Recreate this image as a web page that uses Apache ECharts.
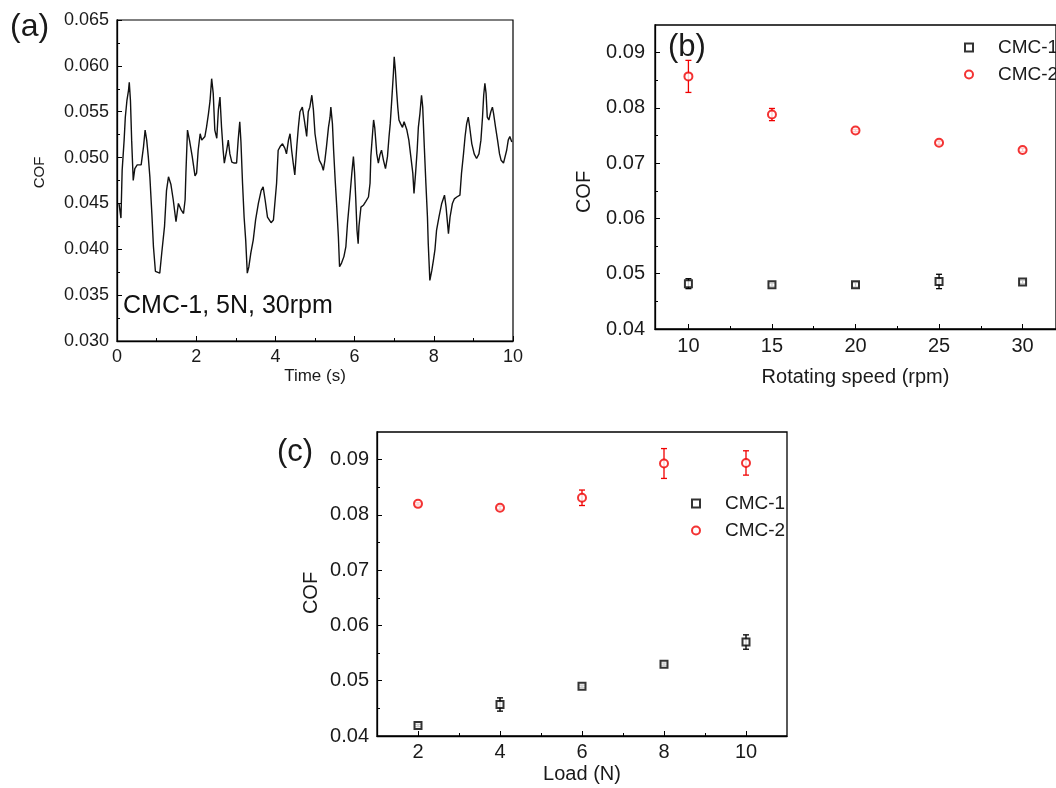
<!DOCTYPE html>
<html>
<head>
<meta charset="utf-8">
<script src="https://cdn.jsdelivr.net/npm/echarts@6/dist/echarts.min.js"></script>
<style>
html,body{margin:0;padding:0;background:#fff;}
#chart{width:1056px;height:788px;}
</style>
</head>
<body>
<div id="chart"></div>
<script>
// ---------- Panel (a): COF vs time ----------
const timeA = [0.05,0.10,0.13,0.18,0.21,0.25,0.29,0.31,0.34,0.37,0.41,0.45,0.51,0.61,0.67,0.71,0.75,0.79,0.83,0.88,0.92,0.97,1.08,1.13,1.20,1.25,1.30,1.36,1.42,1.49,1.55,1.62,1.68,1.72,1.74,1.78,1.83,1.90,1.97,
2.01,2.05,2.10,2.14,2.18,2.22,2.26,2.31,2.35,2.39,2.43,2.47,2.52,2.56,2.60,2.64,2.68,2.71,2.77,2.81,2.85,2.90,2.96,3.02,3.06,3.10,3.13,3.17,3.21,3.25,3.29,3.33,3.38,3.44,3.50,3.57,3.64,3.69,3.74,3.80,3.89,3.95,
4.03,4.07,4.12,4.18,4.24,4.28,4.33,4.37,4.41,4.45,4.49,4.54,4.58,4.62,4.68,4.73,4.79,4.83,4.87,4.92,4.96,5.00,5.06,5.11,5.17,5.21,5.25,5.29,5.34,5.38,5.40,5.44,5.47,5.51,5.55,5.59,5.62,5.67,5.73,5.78,5.82,5.88,5.93,5.97,6.00,6.03,
6.06,6.09,6.11,6.16,6.22,6.28,6.35,6.39,6.41,6.46,6.48,6.51,6.56,6.60,6.64,6.68,6.73,6.78,6.83,6.87,6.90,6.94,6.98,7.00,7.03,7.06,7.09,7.12,7.16,7.21,7.25,7.29,7.32,7.37,7.42,7.47,7.50,7.54,7.58,7.61,7.65,7.69,7.72,7.76,7.80,7.84,7.86,7.90,7.95,7.99,8.03,
8.07,8.13,8.20,8.27,8.31,8.37,8.41,8.47,8.52,8.58,8.66,8.70,8.75,8.79,8.83,8.87,8.91,8.96,9.02,9.08,9.14,9.19,9.23,9.26,9.29,9.32,9.35,9.39,9.44,9.48,9.51,9.56,9.61,9.66,9.70,9.76,9.80,9.84,9.88,9.92,9.97];
const cofA = [0.0450,0.0434,0.0486,0.0519,0.0544,0.0562,0.0573,0.0582,0.0562,0.0519,0.0475,0.0488,0.0492,0.0492,0.0512,0.0530,0.0519,0.0501,0.0479,0.0439,0.0403,0.0376,0.0374,0.0396,0.0425,0.0464,0.0479,0.0471,0.0454,0.0430,0.0450,0.0443,0.0439,0.0454,0.0483,0.0530,0.0519,0.0501,0.0480,
0.0483,0.0508,0.0526,0.0519,0.0517,0.0523,0.0533,0.0548,0.0562,0.0586,0.0570,0.0530,0.0521,0.0552,0.0566,0.0533,0.0508,0.0494,0.0508,0.0519,0.0504,0.0495,0.0494,0.0494,0.0519,0.0539,0.0517,0.0472,0.0435,0.0410,0.0374,0.0381,0.0396,0.0410,0.0432,0.0450,0.0464,0.0468,0.0454,0.0435,0.0429,0.0432,
0.0472,0.0508,0.0512,0.0515,0.0510,0.0504,0.0519,0.0526,0.0508,0.0494,0.0481,0.0512,0.0533,0.0550,0.0555,0.0541,0.0523,0.0550,0.0555,0.0568,0.0552,0.0526,0.0508,0.0497,0.0492,0.0486,0.0497,0.0512,0.0533,0.0544,0.0555,0.0537,0.0508,0.0475,0.0446,0.0414,0.0381,0.0385,0.0392,0.0403,0.0428,0.0457,0.0483,0.0501,0.0483,0.0454,
0.0421,0.0406,0.0425,0.0446,0.0448,0.0452,0.0457,0.0472,0.0501,0.0530,0.0541,0.0532,0.0504,0.0494,0.0503,0.0508,0.0497,0.0488,0.0501,0.0523,0.0537,0.0564,0.0592,0.0610,0.0595,0.0573,0.0555,0.0541,0.0537,0.0533,0.0539,0.0541,0.0530,0.0519,0.0501,0.0483,0.0461,0.0483,0.0508,0.0533,0.0548,0.0568,0.0555,0.0512,0.0472,0.0435,0.0406,0.0366,0.0377,0.0388,0.0400,
0.0421,0.0435,0.0450,0.0459,0.0446,0.0417,0.0435,0.0450,0.0455,0.0457,0.0459,0.0483,0.0504,0.0523,0.0537,0.0544,0.0532,0.0515,0.0504,0.0499,0.0504,0.0519,0.0544,0.0568,0.0581,0.0570,0.0544,0.0541,0.0550,0.0555,0.0548,0.0533,0.0519,0.0504,0.0497,0.0494,0.0492,0.0508,0.0519,0.0523,0.0517];

// ---------- Panel (b): COF vs rotating speed ----------
const speedRpm = [10, 15, 20, 25, 30];
const cmc1Speed = [0.0482, 0.0480, 0.0480, 0.0486, 0.0485];
const cmc1SpeedErr = [0.0009, 0.0003, 0.0004, 0.0013, 0.0003];
const cmc2Speed = [0.0857, 0.0788, 0.0759, 0.0737, 0.0724];
const cmc2SpeedErr = [0.0029, 0.0011, 0.0002, 0.0003, 0.0003];
const speedTicks = [10, 15, 20, 25, 30];
const speedMinorTicks = [12.5, 17.5, 22.5, 27.5];

// ---------- Panel (c): COF vs load ----------
const loadN = [2, 4, 6, 8, 10];
const cmc1Load = [0.0419, 0.0457, 0.0490, 0.0530, 0.0570];
const cmc1LoadErr = [0.0002, 0.0012, 0.0002, 0.0002, 0.0013];
const cmc2Load = [0.0820, 0.0813, 0.0831, 0.0893, 0.0894];
const cmc2LoadErr = [0.0002, 0.0003, 0.0014, 0.0027, 0.0022];
const loadTicks = [2, 4, 6, 8, 10];
const loadMinorTicks = [3, 5, 7, 9];

const cofTicks = [0.04, 0.05, 0.06, 0.07, 0.08, 0.09];
const cofMinorTicks = [0.045, 0.055, 0.065, 0.075, 0.085];

const FONT = "'Liberation Sans', Arial, sans-serif";
const TXT = '#1a1a1a';
const RED = '#f00000';

function pairs(xs, ys) { return xs.map((x, i) => [x, ys[i]]); }
function errData(xs, ys, es) { return xs.map((x, i) => [x, ys[i] - es[i], ys[i] + es[i]]); }
function errRender(color) {
  return function (params, api) {
    const x = api.value(0), lo = api.value(1), hi = api.value(2);
    const p1 = api.coord([x, lo]), p2 = api.coord([x, hi]);
    const w = 3;
    const st = { stroke: color, lineWidth: 1.3 };
    return { type: 'group', children: [
      { type: 'line', shape: { x1: p1[0], y1: p1[1], x2: p2[0], y2: p2[1] }, style: st },
      { type: 'line', shape: { x1: p1[0] - w, y1: p1[1], x2: p1[0] + w, y2: p1[1] }, style: st },
      { type: 'line', shape: { x1: p2[0] - w, y1: p2[1], x2: p2[0] + w, y2: p2[1] }, style: st }
    ]};
  };
}

const axisLineStyle = { lineStyle: { color: '#000', width: 1.3 } };

const chart = echarts.init(document.getElementById('chart'), null, { renderer: 'canvas' });
const option = {
  animation: false,
  backgroundColor: '#fff',
  textStyle: { fontFamily: FONT },
  grid: [
    { left: 117, top: 20, width: 396, height: 321, show: true, borderColor: '#000', borderWidth: 1.2, backgroundColor: 'transparent' },
    { left: 655, top: 25, width: 409, height: 304, show: true, borderColor: '#000', borderWidth: 1.3, backgroundColor: 'transparent' },
    { left: 377, top: 432, width: 410, height: 304, show: true, borderColor: '#000', borderWidth: 1.3, backgroundColor: 'transparent' }
  ],
  xAxis: [
    { gridIndex: 0, type: 'value', position: 'bottom', min: 0, max: 10, interval: 2,
      name: 'Time (s)', nameLocation: 'middle', nameGap: 27,
      nameTextStyle: { fontSize: 17, color: TXT, fontFamily: FONT },
      axisLine: axisLineStyle,
      axisTick: { inside: true, length: 5, lineStyle: { color: '#000' } },
      minorTick: { show: true, splitNumber: 2, length: 3, lineStyle: { color: '#000' } },
      axisLabel: { fontSize: 18, color: TXT, margin: 7, fontFamily: FONT },
      splitLine: { show: false } },
    { gridIndex: 1, type: 'value', position: 'bottom', min: 8, max: 32,
      name: 'Rotating speed (rpm)', nameLocation: 'middle', nameGap: 38,
      nameTextStyle: { fontSize: 20, color: TXT, fontFamily: FONT },
      axisLine: axisLineStyle,
      axisTick: { inside: true, length: 5, customValues: speedTicks, lineStyle: { color: '#000' } },
      axisLabel: { fontSize: 20, color: TXT, margin: 7, customValues: speedTicks, fontFamily: FONT },
      splitLine: { show: false } },
    { gridIndex: 1, type: 'value', position: 'bottom', min: 8, max: 32,
      axisLine: { show: false },
      axisTick: { inside: true, length: 3, customValues: speedMinorTicks, lineStyle: { color: '#000' } },
      axisLabel: { show: false }, splitLine: { show: false } },
    { gridIndex: 2, type: 'value', position: 'bottom', min: 1, max: 11,
      name: 'Load (N)', nameLocation: 'middle', nameGap: 28,
      nameTextStyle: { fontSize: 20, color: TXT, fontFamily: FONT },
      axisLine: axisLineStyle,
      axisTick: { inside: true, length: 5, customValues: loadTicks, lineStyle: { color: '#000' } },
      axisLabel: { fontSize: 20, color: TXT, margin: 6, customValues: loadTicks, fontFamily: FONT },
      splitLine: { show: false } },
    { gridIndex: 2, type: 'value', position: 'bottom', min: 1, max: 11,
      axisLine: { show: false },
      axisTick: { inside: true, length: 3, customValues: loadMinorTicks, lineStyle: { color: '#000' } },
      axisLabel: { show: false }, splitLine: { show: false } }
  ],
  yAxis: [
    { gridIndex: 0, type: 'value', position: 'left', min: 0.030, max: 0.065, interval: 0.005,
      name: 'COF', nameLocation: 'middle', nameGap: 70,
      nameTextStyle: { fontSize: 15, color: TXT, fontFamily: FONT, padding: [0, 0, 0, 16] },
      axisLine: axisLineStyle,
      axisTick: { inside: true, length: 5, lineStyle: { color: '#000' } },
      minorTick: { show: true, splitNumber: 2, length: 3, lineStyle: { color: '#000' } },
      axisLabel: { fontSize: 18, color: TXT, margin: 8, fontFamily: FONT, formatter: v => v.toFixed(3) },
      splitLine: { show: false } },
    { gridIndex: 1, type: 'value', position: 'left', min: 0.04, max: 0.095,
      name: 'COF', nameLocation: 'middle', nameGap: 61,
      nameTextStyle: { fontSize: 20, color: TXT, fontFamily: FONT, padding: [0, 30, 0, 0] },
      axisLine: axisLineStyle,
      axisTick: { inside: true, length: 5, customValues: cofTicks, lineStyle: { color: '#000' } },
      axisLabel: { fontSize: 20, color: TXT, margin: 10, customValues: cofTicks, fontFamily: FONT, formatter: v => v.toFixed(2) },
      splitLine: { show: false } },
    { gridIndex: 1, type: 'value', position: 'left', min: 0.04, max: 0.095,
      axisLine: { show: false },
      axisTick: { inside: true, length: 3, customValues: cofMinorTicks, lineStyle: { color: '#000' } },
      axisLabel: { show: false }, splitLine: { show: false } },
    { gridIndex: 2, type: 'value', position: 'left', min: 0.04, max: 0.095,
      name: 'COF', nameLocation: 'middle', nameGap: 56,
      nameTextStyle: { fontSize: 20, color: TXT, fontFamily: FONT, padding: [0, 18, 0, 0] },
      axisLine: axisLineStyle,
      axisTick: { inside: true, length: 5, customValues: cofTicks, lineStyle: { color: '#000' } },
      axisLabel: { fontSize: 20, color: TXT, margin: 8, customValues: cofTicks, fontFamily: FONT, formatter: v => v.toFixed(2) },
      splitLine: { show: false } },
    { gridIndex: 2, type: 'value', position: 'left', min: 0.04, max: 0.095,
      axisLine: { show: false },
      axisTick: { inside: true, length: 3, customValues: cofMinorTicks, lineStyle: { color: '#000' } },
      axisLabel: { show: false }, splitLine: { show: false } }
  ],
  legend: [
    { data: ['CMC-1', 'CMC-2'], orient: 'vertical', left: 964, top: 38, itemWidth: 8, itemHeight: 8, itemGap: 8,
      padding: 0, selectedMode: false,
      textStyle: { fontSize: 19, color: TXT, fontFamily: FONT, lineHeight: 16, padding: [0, 0, 0, 20] } },
    { data: ['CMC-1', 'CMC-2'], orient: 'vertical', left: 691, top: 494, itemWidth: 8, itemHeight: 8, itemGap: 8,
      padding: 0, selectedMode: false,
      textStyle: { fontSize: 19, color: TXT, fontFamily: FONT, lineHeight: 16, padding: [0, 0, 0, 20] } }
  ],
  graphic: [
    { type: 'text', left: 10, top: 11, style: { text: '(a)', font: '32px ' + FONT, fill: TXT } },
    { type: 'text', left: 668, top: 32, style: { text: '(b)', font: '31px ' + FONT, fill: TXT } },
    { type: 'text', left: 277, top: 437, style: { text: '(c)', font: '31px ' + FONT, fill: TXT } },
    { type: 'text', left: 123, top: 294, style: { text: 'CMC-1, 5N, 30rpm', font: '25px ' + FONT, fill: '#111' } }
  ],
  series: [
    { type: 'line', xAxisIndex: 0, yAxisIndex: 0, data: pairs(timeA, cofA), showSymbol: false, symbol: 'none',
      lineStyle: { color: '#111', width: 1.4 }, clip: true },
    // panel b
    { type: 'custom', name: 'errB1', xAxisIndex: 1, yAxisIndex: 1, data: errData(speedRpm, cmc1Speed, cmc1SpeedErr),
      encode: { x: 0, y: [1, 2] }, renderItem: errRender('#000'), z: 1 },
    { type: 'custom', name: 'errB2', xAxisIndex: 1, yAxisIndex: 1, data: errData(speedRpm, cmc2Speed, cmc2SpeedErr),
      encode: { x: 0, y: [1, 2] }, renderItem: errRender(RED), z: 1 },
    { type: 'scatter', name: 'CMC-1', xAxisIndex: 1, yAxisIndex: 1, data: pairs(speedRpm, cmc1Speed),
      symbol: 'emptyRect', symbolSize: 7, itemStyle: { color: '#000', borderWidth: 1.4 }, z: 3 },
    { type: 'scatter', name: 'CMC-2', xAxisIndex: 1, yAxisIndex: 1, data: pairs(speedRpm, cmc2Speed),
      symbol: 'emptyCircle', symbolSize: 8, itemStyle: { color: RED, borderWidth: 1.4 }, z: 3 },
    // panel c
    { type: 'custom', name: 'errC1', xAxisIndex: 3, yAxisIndex: 3, data: errData(loadN, cmc1Load, cmc1LoadErr),
      encode: { x: 0, y: [1, 2] }, renderItem: errRender('#000'), z: 1 },
    { type: 'custom', name: 'errC2', xAxisIndex: 3, yAxisIndex: 3, data: errData(loadN, cmc2Load, cmc2LoadErr),
      encode: { x: 0, y: [1, 2] }, renderItem: errRender(RED), z: 1 },
    { type: 'scatter', name: 'CMC-1', xAxisIndex: 3, yAxisIndex: 3, data: pairs(loadN, cmc1Load),
      symbol: 'emptyRect', symbolSize: 7, itemStyle: { color: '#000', borderWidth: 1.4 }, z: 3 },
    { type: 'scatter', name: 'CMC-2', xAxisIndex: 3, yAxisIndex: 3, data: pairs(loadN, cmc2Load),
      symbol: 'emptyCircle', symbolSize: 8, itemStyle: { color: RED, borderWidth: 1.4 }, z: 3 }
  ]
};
chart.setOption(option);
</script>
</body>
</html>
